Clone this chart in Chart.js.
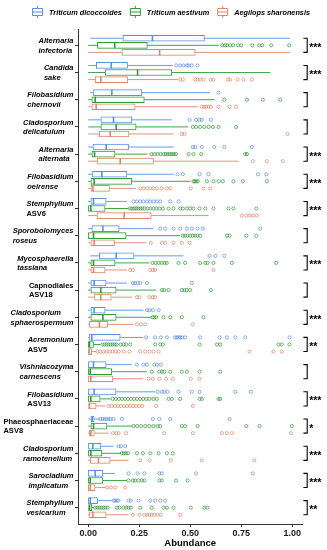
<!DOCTYPE html>
<html><head><meta charset="utf-8">
<script src="https://cdn.jsdelivr.net/npm/chart.js@4/dist/chart.umd.min.js"></script>
<style>html,body{margin:0;padding:0;background:#fff;}canvas{display:block;}</style>
</head><body>
<canvas id="c" width="327" height="550"></canvas>
<script>
// ---------- data ----------
const categories = [
  ['Alternaria','infectoria'],['Candida','sake'],['Filobasidium','chernovii'],['Cladosporium','delicatulum'],
  ['Alternaria','alternata'],['Filobasidium','oeirense'],['Stemphylium','ASV6'],['Sporobolomyces','roseus'],
  ['Mycosphaerella','tassiana'],['Capnodiales','ASV18'],['Cladosporium','sphaerospermum'],['Acremonium','ASV5'],
  ['Vishniacozyma','carnescens'],['Filobasidium','ASV13'],['Phaeosphaeriaceae','ASV8'],['Cladosporium','ramotenellum'],
  ['Sarocladium','implicatum'],['Stemphylium','vesicarium']
];
const italicLines = [
  [1,1],[1,1],[1,1],[1,1],[1,1],[1,1],[1,0],[1,1],[1,1],[0,0],[1,1],[1,0],[1,1],[1,0],[0,0],[1,1],[1,1],[1,1]
];
const significance = ['***','***','','','***','***','***','','***','','***','**','','***','*','***','***','**'];
const groups = ['Triticum dicoccoides','Triticum aestivum','Aegilops sharonensis'];
const xTicks = [0, 0.25, 0.5, 0.75, 1];
const xTickLabels = ['0.00','0.25','0.50','0.75','1.00'];

// [lower whisker, Q1, median, Q3, upper whisker]
const dicoccoidesBox = [
  [0.01,0.17,0.315,0.57,0.99],[0,0.04,0.113,0.193,0.415],[0.01,0.026,0.116,0.263,0.598],[0,0.062,0.124,0.214,0.41],
  [0,0.023,0.088,0.198,0.418],[0,0.021,0.067,0.19,0.42],[0,0.013,0.026,0.088,0.19],[0,0.018,0.072,0.152,0.32],
  [0.01,0.054,0.137,0.225,0.467],[0,0.013,0.029,0.088,0.19],[0,0.013,0.029,0.083,0.271],[0,0.006,0.018,0.157,0.27],
  [0,0.001,0.026,0.088,0.214],[0,0.001,0.029,0.137,0.328],[0,0.013,0.02,0.029,0.055],[0,0.001,0.023,0.062,0.124],
  [0,0.001,0.034,0.072,0.132],[0,0.001,0.01,0.046,0.115]
];
const dicoccoidesOut = [
  [],[0.431,0.451,0.467,0.484,0.492,0.508,0.536],[0.639],[0.497,0.529,0.546,0.557,0.601],
  [0.513,0.525,0.557,0.618,0.667,0.802],[0.438,0.464,0.546,0.59,0.832,0.873],
  [0.222,0.239,0.255,0.271,0.288,0.304,0.32,0.337,0.353,0.402,0.443],
  [0.353,0.377,0.418,0.451,0.484,0.508,0.536,0.562,0.843],[0.595,0.623,0.667],
  [0.219,0.23,0.242,0.255,0.288,0.508],[0.288,0.3,0.317,0.345],
  [0.284,0.328,0.356,0.386,0.426,0.435,0.443,0.451,0.459,0.475,0.549,0.644,0.68,0.721,0.77,0.987],
  [0.239,0.271,0.288,0.324,0.337,0.356],[0.34,0.361,0.373,0.389,0.443,0.508,0.546,0.721,0.797],
  [0.06,0.07,0.08,0.09,0.1,0.11,0.124,0.165,0.317,0.349,0.402,0.693],[0.149,0.16,0.181],
  [0.198,0.242,0.275,0.349,0.361,0.529,0.807],[0.125,0.132,0.14,0.148,0.198,0.209,0.247,0.304,0.328,0.353,0.377]
];
const aestivumBox = [
  [0,0.045,0.13,0.29,0.64],[0,0.083,0.242,0.41,0.892],[0,0.018,0.034,0.275,0.62],[0,0.062,0.137,0.235,0.49],
  [0,0.018,0.031,0.132,0.29],[0,0.013,0.029,0.214,0.5],[0,0.001,0.013,0.083,0.196],[0,0.001,0.026,0.186,0.45],
  [0,0.013,0.026,0.132,0.3],[0,0.013,0.062,0.137,0.333],[0,0.013,0.072,0.137,0.31],[0,0.001,0.006,0.026,0.06],
  [0,0.001,0.01,0.116,0.287],[0,0.001,0.013,0.059,0.11],[0,0.013,0.026,0.092,0.214],[0,0.001,0.013,0.067,0.16],
  [0,0.001,0.01,0.072,0.19],[0,0,0.006,0.018,0.029]
];
const aestivumOut = [
  [0.657,0.672,0.681,0.696,0.711,0.735,0.75,0.804,0.838,0.853,0.897,0.985],[],[0.667,0.778,0.856,0.941],
  [0.513,0.529,0.549,0.569,0.59,0.611,0.639,0.725],
  [0.31,0.325,0.34,0.355,0.37,0.38,0.39,0.4,0.41,0.42,0.43,0.492,0.516,0.554,0.77,0.778],
  [0.516,0.522,0.53,0.537,0.582,0.614,0.639,0.66,0.712,0.758,0.876],
  [0.205,0.215,0.225,0.235,0.245,0.255,0.265,0.275,0.29,0.305,0.32,0.335,0.35,0.366,0.394,0.418,0.451,0.464,0.484,0.5,0.516,0.546,0.574,0.614,0.688,0.712,0.824],
  [0.464,0.475,0.487,0.5,0.513,0.525,0.536,0.549,0.68,0.693,0.775,0.824],
  [0.315,0.33,0.345,0.36,0.375,0.385,0.443,0.475,0.549,0.574,0.585,0.614,0.704,0.922],
  [0.361,0.373,0.394,0.459,0.472,0.484,0.5,0.601],[0.317,0.325,0.333,0.369,0.402,0.459,0.565],
  [0.07,0.08,0.09,0.1,0.11,0.12,0.13,0.14,0.16,0.173,0.186,0.206,0.328,0.353,0.366,0.546,0.631,0.647,0.933,0.949,0.987],
  [0.312,0.349,0.361,0.373,0.402,0.459,0.484,0.546,0.647],
  [0.12,0.135,0.15,0.165,0.18,0.195,0.21,0.225,0.24,0.255,0.27,0.285,0.3,0.32,0.336,0.394,0.41,0.451,0.546,0.557,0.639,0.647],
  [0.222,0.24,0.26,0.28,0.3,0.32,0.34,0.353,0.459,0.475,0.536,0.775,0.84,0.998],
  [0.165,0.175,0.185,0.195,0.239,0.268,0.304,0.345,0.386,0.415],
  [0.198,0.219,0.23,0.247,0.263,0.275,0.349,0.361,0.431,0.487],
  [0.035,0.045,0.055,0.065,0.075,0.085,0.095,0.141,0.153,0.173,0.186,0.198,0.209,0.255,0.312,0.369,0.386,0.418,0.503,0.569,0.585]
];
const sharonensisBox = [
  [0,0.165,0.35,0.525,0.99],[0,0.034,0.062,0.193,0.44],[0,0.018,0.039,0.23,0.54],[0,0.054,0.108,0.2,0.418],
  [0,0.043,0.157,0.32,0.737],[0,0.013,0.023,0.104,0.235],[0,0.043,0.176,0.309,0.59],[0,0.013,0.029,0.129,0.287],
  [0,0.013,0.026,0.083,0.19],[0,0.031,0.062,0.113,0.214],[0,0.006,0.055,0.095,0.222],[0,0,0.004,0.018,0.04],
  [0,0.001,0.013,0.121,0.27],[0,0,0.006,0.039,0.085],[0,0.006,0.013,0.03,0.1],[0,0.01,0.05,0.108,0.198],
  [0,0.001,0.01,0.034,0.085],[0,0.006,0.023,0.088,0.198]
];
const sharonensisOut = [
  [],[0.451,0.464,0.525,0.536,0.549,0.565,0.601,0.614,0.685,0.696,0.732,0.761,0.802],
  [0.557,0.569,0.578,0.59,0.601,0.639,0.693,0.725],[0.459,0.472,0.977],[0.807,0.876,0.954],
  [0.255,0.271,0.288,0.304,0.32,0.337,0.361,0.386,0.402,0.503,0.565,0.598],[0.753,0.775,0.791,0.807,0.827],
  [0.307,0.361,0.377,0.418,0.459,0.497],[0.206,0.219,0.304,0.317,0.328,0.614],[0.239,0.251,0.3,0.317,0.328],
  [0.239,0.258,0.279,0.513],
  [0.045,0.06,0.075,0.09,0.105,0.12,0.135,0.15,0.175,0.202,0.255,0.279,0.3,0.32,0.345,0.791,0.908,0.949],
  [0.296,0.317,0.349,0.382,0.415,0.503,0.546],
  [0.1,0.115,0.13,0.145,0.16,0.175,0.19,0.205,0.22,0.235,0.25,0.265,0.333,0.513],
  [0.121,0.137,0.149,0.186,0.373,0.513,0.655,0.68,0.704,0.994],[0.255,0.3,0.405,0.557,0.814],
  [0.092,0.111,0.132,0.181],[0.219,0.251,0.275,0.288,0.3,0.312,0.324,0.34,0.356,0.451]
];

// ---------- styling ----------
const FONT = '"Liberation Sans", Arial, Helvetica, sans-serif';
const colors = ['#5B8FE0', '#2F9A38', '#DC866C'];
const dodge = [-0.26, 0, 0.26];
const boxSets = [dicoccoidesBox, aestivumBox, sharonensisBox];
const outSets = [dicoccoidesOut, aestivumOut, sharonensisOut];

const datasets = [];
boxSets.forEach((boxes, g) => {
  const whisk = [];
  boxes.forEach((b, i) => {
    const y = i + dodge[g];
    whisk.push({x: b[0], y}, {x: b[1], y}, {x: null, y: null}, {x: b[3], y}, {x: b[4], y}, {x: null, y: null});
  });
  datasets.push({type: 'line', label: groups[g] + ' whiskers', data: whisk, borderColor: colors[g],
    borderWidth: 0.9, pointRadius: 0, spanGaps: false, fill: false, tension: 0, order: 4});
  datasets.push({type: 'bar', label: groups[g], indexAxis: 'y', grouped: false, barThickness: 6,
    data: boxes.map((b, i) => ({y: i + dodge[g], x: [b[1], b[3]]})),
    backgroundColor: '#ffffff', borderColor: colors[g], borderWidth: 1, borderSkipped: false, order: 3});
  datasets.push({type: 'scatter', label: groups[g] + ' median',
    data: boxes.map((b, i) => ({x: b[2], y: i + dodge[g]})),
    pointStyle: 'line', rotation: 90, pointRadius: 3, borderWidth: 1.6, borderColor: colors[g], order: 2});
  const outs = [];
  outSets[g].forEach((arr, i) => arr.forEach(v => outs.push({x: v, y: i + dodge[g]})));
  datasets.push({type: 'scatter', label: groups[g] + ' outliers', data: outs, pointStyle: 'circle',
    pointRadius: 1.6, borderWidth: 0.7, borderColor: colors[g], backgroundColor: 'rgba(0,0,0,0)', order: 1});
});

const decorations = {
  id: 'decorations',
  afterDraw(chart) {
    const ctx = chart.ctx, ys = chart.scales.y, area = chart.chartArea;
    ctx.save();
    ctx.fillStyle = '#000';
    // category labels
    categories.forEach((lines, i) => {
      const yc = ys.getPixelForValue(i);
      const fonts = lines.map((t, j) => (italicLines[i][j] ? 'italic ' : '') + 'bold 7.5px ' + FONT);
      const widths = lines.map((t, j) => { ctx.font = fonts[j]; return ctx.measureText(t).width; });
      const xLeft = ys.right - 4.5 - Math.max(...widths);
      ctx.textAlign = 'left'; ctx.textBaseline = 'middle';
      lines.forEach((t, j) => { ctx.font = fonts[j]; ctx.fillText(t, xLeft, yc - 4.3 + j * 9.6); });
    });
    // significance brackets
    ctx.strokeStyle = '#000'; ctx.lineWidth = 1.1;
    significance.forEach((s, i) => {
      const y1 = ys.getPixelForValue(i - 0.26), y2 = ys.getPixelForValue(i + 0.26), yc = ys.getPixelForValue(i);
      const xr = area.right;
      ctx.beginPath(); ctx.moveTo(xr + 1, y1); ctx.lineTo(xr + 4.8, y1); ctx.lineTo(xr + 4.8, y2); ctx.lineTo(xr + 1, y2); ctx.stroke();
      if (s) {
        ctx.font = 'bold 10.5px ' + FONT; ctx.textAlign = 'left'; ctx.textBaseline = 'alphabetic';
        ctx.fillText(s, xr + 6.8, yc + 5.5);
      }
    });
    // legend
    let x = 32; const ly = 12;
    groups.forEach((g, k) => {
      const w = 10, h = 7;
      ctx.strokeStyle = colors[k]; ctx.lineWidth = 1;
      ctx.beginPath();
      ctx.rect(x + 0.5, ly - h / 2, w, h);
      ctx.moveTo(x + 0.5, ly); ctx.lineTo(x + w + 0.5, ly);
      ctx.moveTo(x + w / 2 + 0.5, ly - h / 2 - 2.5); ctx.lineTo(x + w / 2 + 0.5, ly - h / 2);
      ctx.moveTo(x + w / 2 + 0.5, ly + h / 2); ctx.lineTo(x + w / 2 + 0.5, ly + h / 2 + 2.5);
      ctx.stroke();
      ctx.font = 'italic bold 7.3px ' + FONT; ctx.textAlign = 'left'; ctx.textBaseline = 'middle'; ctx.fillStyle = '#000';
      ctx.fillText(g, x + w + 7, ly + 0.8);
      x += w + 7 + ctx.measureText(g).width + 8;
    });
    ctx.restore();
  }
};

new Chart(document.getElementById('c'), {
  type: 'bar',
  data: {datasets},
  options: {
    responsive: false, animation: false, devicePixelRatio: 1, events: [],
    layout: {padding: {top: 29, right: 24.6, bottom: 0, left: 0}},
    plugins: {legend: {display: false}, tooltip: {enabled: false}},
    scales: {
      x: {
        type: 'linear', min: -0.05, max: 1.05, offset: false,
        afterBuildTicks: s => { s.ticks = xTicks.map(v => ({value: v})); },
        ticks: {callback: (v, i) => xTickLabels[i], font: {family: FONT, size: 9, weight: 'bold'}, color: '#1a1a1a',
          padding: 1, maxRotation: 0, autoSkip: false},
        grid: {display: true, drawOnChartArea: false, drawTicks: true, tickLength: 3, color: '#333', offset: false},
        border: {display: true, color: '#333', width: 1},
        title: {display: true, text: 'Abundance', font: {family: FONT, size: 9.5, weight: 'bold', lineHeight: 1.2},
          color: '#000', padding: {top: 0, bottom: 1.3}},
        afterFit: s => { s.height = 26; }
      },
      y: {
        type: 'linear', min: -0.6, max: 17.6, reverse: true, offset: false,
        afterBuildTicks: s => { s.ticks = categories.map((c, i) => ({value: i})); },
        ticks: {callback: () => '', padding: 0, autoSkip: false},
        grid: {display: true, drawOnChartArea: false, drawTicks: true, tickLength: 3, color: '#333', offset: false},
        border: {display: true, color: '#333', width: 1},
        afterFit: s => { s.width = 78; }
      }
    }
  },
  plugins: [decorations]
});
</script>
</body></html>
